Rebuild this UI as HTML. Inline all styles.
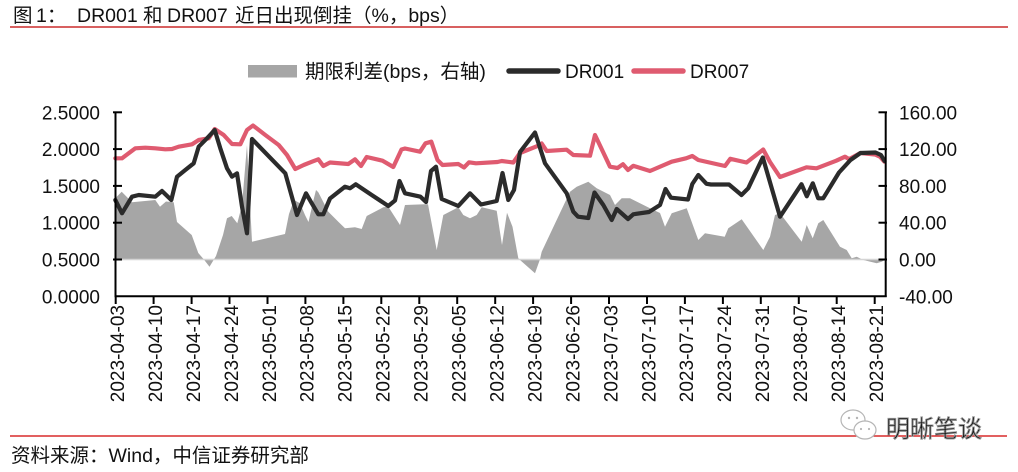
<!DOCTYPE html>
<html>
<head>
<meta charset="utf-8">
<style>
html,body{margin:0;padding:0;background:#fff;}
body{width:1018px;height:472px;overflow:hidden;}
svg{display:block;}
text{font-family:"Liberation Sans","Noto Sans CJK SC",sans-serif;fill:#111;}
.cjk{font-family:"Liberation Sans","Noto Sans CJK SC",sans-serif;}
</style>
</head>
<body>
<svg width="1018" height="472" viewBox="0 0 1018 472" xmlns="http://www.w3.org/2000/svg">
<!-- Title -->
<g font-size="19.5">
<text x="13" y="22">图</text>
<text x="36" y="22">1：</text>
<text x="77" y="22">DR001</text>
<text x="143" y="22">和</text>
<text x="167" y="22">DR007</text>
<text x="235" y="22">近日出现倒挂（%，bps）</text>
</g>
<line x1="10" y1="27" x2="1008" y2="27" stroke="#c00000" stroke-width="1.3"/>

<!-- Legend -->
<rect x="248" y="65" width="49" height="12.5" fill="#a6a6a6"/>
<text x="305" y="78" font-size="19.5">期限利差(bps，右轴)</text>
<line x1="509" y1="71" x2="558" y2="71" stroke="#2b2b2b" stroke-width="5.5" stroke-linecap="round"/>
<text x="565" y="78" font-size="19">DR001</text>
<line x1="634" y1="71" x2="683" y2="71" stroke="#df5b70" stroke-width="5.5" stroke-linecap="round"/>
<text x="690" y="78" font-size="19">DR007</text>

<!-- Spread area -->
<polygon fill="#a6a6a6" points="115.5,259.5 115.5,198 121.7,191.7 132,202.3 155.3,200 160,206.7 166,201.5 173.7,202.3 177,222 191.7,235 198.3,253 203.7,259.3 209.5,266.7 216,256 223,235 227,218.3 231.7,216 237.3,223.3 242,205 247,145 252,241.7 285,234 289,214 294,200 300,203.3 305,215 308.5,222 313.5,200 316,190 318.3,192.3 328.3,211.7 338.3,221.7 345,228.3 355,227.3 361.7,229 366.7,216 383.3,207.3 388.3,206.7 400,225 405,205 425,204.3 428,204.3 436.7,250 443.3,215 458.3,207.3 463.3,215 470,218.3 476.7,215 481.7,207.3 496.7,210.7 502,245 507,212.7 512.5,226.7 518.3,258.3 520,260 535,273.3 540,259.3 541.7,251.7 570,191.7 576.7,186.7 588.3,181.7 596.7,188.3 610,195 615,205 621.7,198.3 630,198.3 650,208.3 660,213 665,226.7 671.7,213.3 686.7,208.3 698.3,240 705,233.3 724.7,236.7 728.3,228.3 741.7,219.3 763.3,250 770,236.7 775,215 780,213.3 801.7,241.7 806.7,225 812.7,238.3 818.3,223.3 823.3,220 840,246.7 846.7,250 851.7,258.3 856.7,256.7 863.3,260 876.7,263.3 881.7,261.7 884.7,260 884.7,259.5"/>
<line x1="115.5" y1="259.5" x2="885" y2="259.5" stroke="#d4d4d4" stroke-width="1.6"/>

<!-- DR007 -->
<polyline fill="none" stroke="#df5b70" stroke-width="4.2" stroke-linejoin="round" stroke-linecap="round" points="115.3,158.3 122,158.3 135.3,148.3 145.3,147.7 155.3,148.3 165.3,149.3 172,149 178.7,146.7 192,144.3 198.7,140 208.7,138.3 214.7,129 223.7,135 232,144 240.3,144.3 247,130 253,125.5 265.3,135 278.7,145 287,155 295.3,169 303.7,165 312,161.7 318.3,159.3 323.3,166 330,162.5 348.3,164 355,159.3 361,166 366.7,157 382.5,160.7 393.3,167 401.5,149.5 405,148.5 420,151.7 425.5,143.3 431.3,141.7 437.5,160 442.5,165 458.3,164 464,167.5 469,162.3 476,163.3 497.5,162 501.7,161 513.3,162.5 520,153 538.3,145.7 541.7,143.5 546.7,151 566.7,149.7 573.3,155 590,155.7 595,135 610,166.7 617.5,168 623,164.2 628,170 633.3,165.8 650,171 671.7,161.7 686,158.3 692.3,156 698.3,160 725,166 730.3,158.8 746.5,162.5 763.2,149.5 770,162 780,177 806.5,167.3 816.5,168.3 836,160.8 845,156.7 849,159.2 860.5,153 875,154.5 880,156.7 884.5,161.7"/>

<!-- DR001 -->
<polyline fill="none" stroke="#2b2b2b" stroke-width="4.2" stroke-linejoin="round" stroke-linecap="round" points="115.3,200 122,213.3 132,196.7 138.7,195 155.3,196.7 162,191 171.3,200 177,176.7 185.3,170 193.7,163.3 198.7,146.7 207,138.3 214.7,130 220.3,148.3 227,168.3 232,176.7 237,173.3 242,206.7 247,233.3 252,139 285.3,173.3 297,215 306,193.3 311,202 318.3,214.3 323.3,214.3 330,198.5 345,186.7 350,188.3 355.7,184.3 371.7,195 388.3,206 395,200.5 399.5,181 405,193.3 420.5,196.7 426,202 431,171 436,166.7 441.7,199 458.3,206 470,193.3 481,204.5 496.7,201 502.5,173 508.3,200 514,190 520,152 535,132.5 545,163.3 566.7,193.3 573.3,211.7 578,216.7 588.3,218 594.5,192.5 603.3,205 611.7,220 616.7,209 628,219 633.3,214.3 649,212 660,205 665.5,189 671,197.7 688,199.5 692.3,184 698.3,175 706.5,183.8 711,184.5 729,184.5 741.5,195 748.2,188.3 762.8,157.5 780,216.7 801.5,184.2 806.8,196.3 812.8,183.3 818.2,198.3 823.2,198.3 839,172.5 850.5,160 860.5,153 875.5,152.5 881,155 884.5,161"/>

<!-- Axes -->
<g stroke="#000" stroke-width="2">
<line x1="115.5" y1="112" x2="115.5" y2="297"/>
<line x1="885.7" y1="112" x2="885.7" y2="297"/>
<line x1="114.5" y1="296.3" x2="886.7" y2="296.3"/>
<!-- left ticks -->
<line x1="113" y1="112.3" x2="122" y2="112.3"/>
<line x1="113" y1="149.1" x2="122" y2="149.1"/>
<line x1="113" y1="185.9" x2="122" y2="185.9"/>
<line x1="113" y1="222.7" x2="122" y2="222.7"/>
<line x1="113" y1="259.5" x2="122" y2="259.5"/>
<!-- right ticks -->
<line x1="878.5" y1="112.3" x2="887" y2="112.3"/>
<line x1="878.5" y1="149.1" x2="887" y2="149.1"/>
<line x1="878.5" y1="185.9" x2="887" y2="185.9"/>
<line x1="878.5" y1="222.7" x2="887" y2="222.7"/>
<line x1="878.5" y1="259.5" x2="887" y2="259.5"/>
<!-- x ticks -->
<line x1="115.7" y1="296" x2="115.7" y2="304"/>
<line x1="153.6" y1="296" x2="153.6" y2="304"/>
<line x1="191.6" y1="296" x2="191.6" y2="304"/>
<line x1="229.5" y1="296" x2="229.5" y2="304"/>
<line x1="267.5" y1="296" x2="267.5" y2="304"/>
<line x1="305.4" y1="296" x2="305.4" y2="304"/>
<line x1="343.4" y1="296" x2="343.4" y2="304"/>
<line x1="381.3" y1="296" x2="381.3" y2="304"/>
<line x1="419.3" y1="296" x2="419.3" y2="304"/>
<line x1="457.2" y1="296" x2="457.2" y2="304"/>
<line x1="495.2" y1="296" x2="495.2" y2="304"/>
<line x1="533.1" y1="296" x2="533.1" y2="304"/>
<line x1="571.1" y1="296" x2="571.1" y2="304"/>
<line x1="609.0" y1="296" x2="609.0" y2="304"/>
<line x1="647.0" y1="296" x2="647.0" y2="304"/>
<line x1="684.9" y1="296" x2="684.9" y2="304"/>
<line x1="722.9" y1="296" x2="722.9" y2="304"/>
<line x1="760.8" y1="296" x2="760.8" y2="304"/>
<line x1="798.8" y1="296" x2="798.8" y2="304"/>
<line x1="836.7" y1="296" x2="836.7" y2="304"/>
<line x1="874.7" y1="296" x2="874.7" y2="304"/>
</g>

<!-- Left labels -->
<g font-size="19" text-anchor="end">
<text x="100" y="119.3">2.5000</text>
<text x="100" y="156.1">2.0000</text>
<text x="100" y="192.9">1.5000</text>
<text x="100" y="229.7">1.0000</text>
<text x="100" y="266.5">0.5000</text>
<text x="100" y="303.3">0.0000</text>
</g>
<!-- Right labels -->
<g font-size="19">
<text x="899" y="119.3">160.00</text>
<text x="899" y="156.1">120.00</text>
<text x="899" y="192.9">80.00</text>
<text x="899" y="229.7">40.00</text>
<text x="899" y="266.5">0.00</text>
<text x="899" y="303.3">-40.00</text>
</g>

<!-- X labels -->
<g font-size="19" text-anchor="end">
<text transform="translate(124,305) rotate(-90)">2023-04-03</text>
<text transform="translate(161.9,305) rotate(-90)">2023-04-10</text>
<text transform="translate(199.9,305) rotate(-90)">2023-04-17</text>
<text transform="translate(237.8,305) rotate(-90)">2023-04-24</text>
<text transform="translate(275.8,305) rotate(-90)">2023-05-01</text>
<text transform="translate(313.7,305) rotate(-90)">2023-05-08</text>
<text transform="translate(351.7,305) rotate(-90)">2023-05-15</text>
<text transform="translate(389.6,305) rotate(-90)">2023-05-22</text>
<text transform="translate(427.6,305) rotate(-90)">2023-05-29</text>
<text transform="translate(465.5,305) rotate(-90)">2023-06-05</text>
<text transform="translate(503.5,305) rotate(-90)">2023-06-12</text>
<text transform="translate(541.4,305) rotate(-90)">2023-06-19</text>
<text transform="translate(579.4,305) rotate(-90)">2023-06-26</text>
<text transform="translate(617.3,305) rotate(-90)">2023-07-03</text>
<text transform="translate(655.3,305) rotate(-90)">2023-07-10</text>
<text transform="translate(693.2,305) rotate(-90)">2023-07-17</text>
<text transform="translate(731.2,305) rotate(-90)">2023-07-24</text>
<text transform="translate(769.1,305) rotate(-90)">2023-07-31</text>
<text transform="translate(807.1,305) rotate(-90)">2023-08-07</text>
<text transform="translate(845.0,305) rotate(-90)">2023-08-14</text>
<text transform="translate(883.0,305) rotate(-90)">2023-08-21</text>
</g>

<!-- Footer -->
<line x1="10" y1="436" x2="1007" y2="436" stroke="#d00000" stroke-width="1.3"/>
<text x="11" y="462" font-size="19.5">资料来源：Wind，中信证券研究部</text>

<!-- Watermark -->
<g fill="#fff" stroke="#b5b5b5" stroke-width="1.2">
<ellipse cx="853" cy="420" rx="12" ry="10"/>
<ellipse cx="865" cy="430" rx="11" ry="9"/>
</g>
<g fill="#b5b5b5">
<circle cx="849" cy="418" r="1.2"/><circle cx="857" cy="418" r="1.2"/>
<circle cx="861" cy="429" r="1.1"/><circle cx="869" cy="429" r="1.1"/>
</g>
<text x="886" y="437" font-size="24" fill="#fff" stroke="#9a9a9a" stroke-width="0.9">明晰笔谈</text>
</svg>
</body>
</html>
